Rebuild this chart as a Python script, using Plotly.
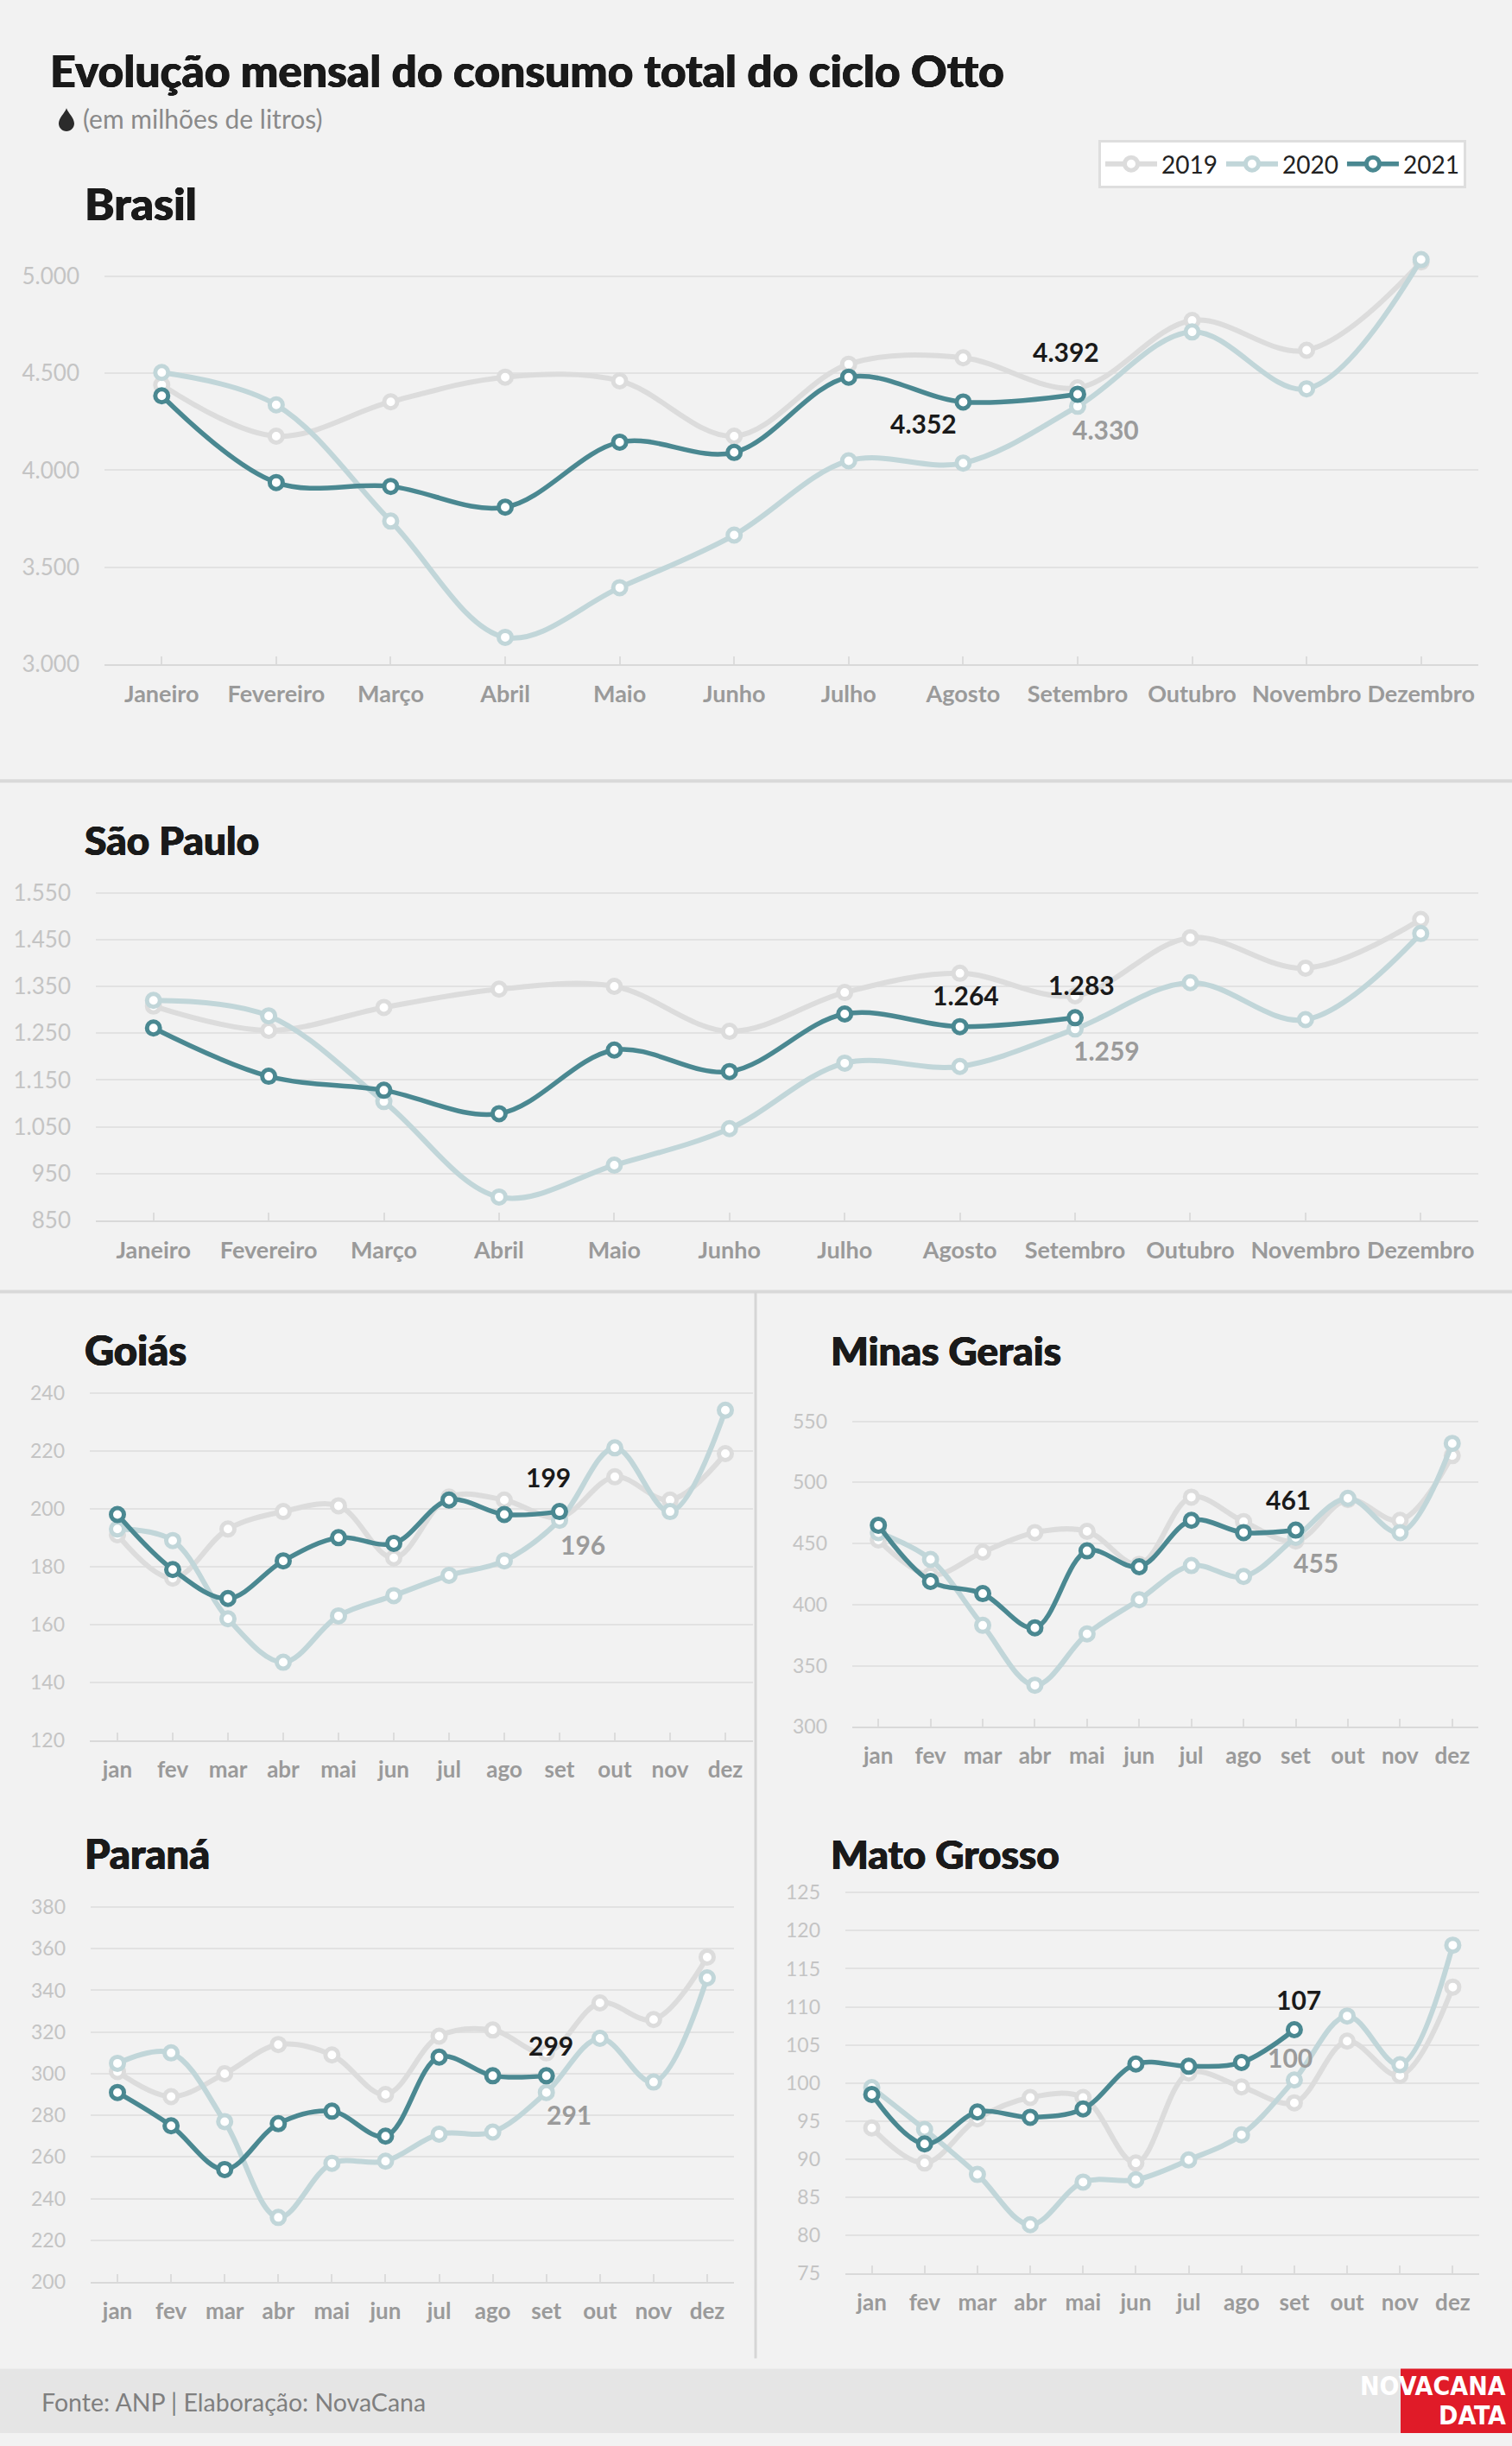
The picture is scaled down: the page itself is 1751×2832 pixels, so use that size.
import plotly.graph_objects as go

# design size in pixels; everything below is placed as a fraction of it
W, H = 1751, 2832

# ---- data ----
meses_longos = ['Janeiro', 'Fevereiro', 'Março', 'Abril', 'Maio', 'Junho', 'Julho',
                'Agosto', 'Setembro', 'Outubro', 'Novembro', 'Dezembro']
meses_curtos = ['jan', 'fev', 'mar', 'abr', 'mai', 'jun', 'jul', 'ago', 'set', 'out', 'nov', 'dez']
anos = ['2019', '2020', '2021']

brasil_2019 = [4440, 4176, 4353, 4480, 4461, 4176, 4547, 4580, 4425, 4772, 4619, 5074]
brasil_2020 = [4504, 4337, 3738, 3139, 3395, 3666, 4049, 4037, 4330, 4713, 4420, 5086]
brasil_2021 = [4384, 3937, 3917, 3810, 4145, 4092, 4480, 4352, 4392]

sp_2019 = [1308, 1256, 1305, 1344, 1350, 1254, 1337, 1378, 1330, 1454, 1389, 1493]
sp_2020 = [1320, 1287, 1104, 900, 968, 1046, 1186, 1179, 1259, 1358, 1279, 1463]
sp_2021 = [1261, 1158, 1128, 1078, 1214, 1168, 1291, 1264, 1283]

goias_2019 = [191, 176, 193, 199, 201, 183, 204, 203, 197, 211, 203, 219]
goias_2020 = [193, 189, 162, 147, 163, 170, 177, 182, 196, 221, 199, 234]
goias_2021 = [198, 179, 169, 182, 190, 188, 203, 198, 199]

mg_2019 = [453, 424, 443, 459, 460, 433, 488, 468, 452, 486, 469, 522]
mg_2020 = [459, 437, 383, 334, 376, 404, 432, 423, 455, 487, 459, 532]
mg_2021 = [465, 419, 409, 381, 444, 431, 469, 459, 461]

pr_2019 = [301, 289, 300, 314, 309, 290, 318, 321, 310, 334, 326, 356]
pr_2020 = [305, 310, 277, 231, 257, 258, 271, 272, 291, 317, 296, 346]
pr_2021 = [291, 275, 254, 276, 282, 270, 308, 299, 299]

mt_2019 = [94.1, 89.5, 95.3, 98.1, 98.1, 89.5, 101.3, 99.5, 97.4, 105.5, 101.0, 112.6]
mt_2020 = [99.4, 93.9, 88.0, 81.4, 87.0, 87.3, 89.9, 93.2, 100.4, 108.8, 102.4, 118.1]
mt_2021 = [98.5, 92.0, 96.2, 95.5, 96.6, 102.5, 102.2, 102.7, 107.0]

# ---- styles / layout ----
cores = {'2019': '#dcdcdc', '2020': '#c1d6d9', '2021': '#4a8891'}
FONT = 'Lato, "Open Sans", sans-serif'
FONT_BLACK = '"Lato Black", Lato, "Open Sans", sans-serif'
# no Lato Black here, so thicken the bold titles a little
ENGROSSA = '0.7px 0 0 #1a1a1a, -0.4px 0 0 #1a1a1a, 0 0.4px 0 #1a1a1a'


def fx(x):
    return x / W


def fy(y):
    return 1 - y / H


# name, series, x-labels, pixel box (x0, x1, ytop, ybottom), y range, dtick, tick font sizes
paineis = [
    dict(nome='Brasil', series=[brasil_2019, brasil_2020, brasil_2021], cats=meses_longos,
         box=(121, 1712, 285, 771), yr=[3000, 5150], dtick=500, tfs=(26, 27),
         titulo=(96, 233), tsize=52,
         rotulos=[(2, 7, -46, -25, '#1a1a1a'), (2, 8, -13, 49, '#1a1a1a'), (1, 8, 33, -27, '#9b9b9b')]),
    dict(nome='São Paulo', series=[sp_2019, sp_2020, sp_2021], cats=meses_longos,
         box=(111, 1712, 1010, 1419), yr=[850, 1600], dtick=100, tfs=(26, 27),
         titulo=(96, 976), tsize=46,
         rotulos=[(2, 7, 7, 37, '#1a1a1a'), (2, 8, 7, 38, '#1a1a1a'), (1, 8, 36, -25, '#9b9b9b')]),
    dict(nome='Goiás', series=[goias_2019, goias_2020, goias_2021], cats=meses_curtos,
         box=(104, 872, 1603, 2025), yr=[120, 245], dtick=20, tfs=(23, 26),
         titulo=(96, 1570), tsize=47,
         rotulos=[(2, 8, -13, 40, '#1a1a1a'), (1, 8, 27, -28, '#9b9b9b')]),
    dict(nome='Minas Gerais', series=[mg_2019, mg_2020, mg_2021], cats=meses_curtos,
         box=(987, 1712, 1639, 2009), yr=[300, 560], dtick=50, tfs=(23, 26),
         titulo=(960, 1570), tsize=46,
         rotulos=[(2, 8, -9, 36, '#1a1a1a'), (1, 8, 23, -29, '#9b9b9b')]),
    dict(nome='Paraná', series=[pr_2019, pr_2020, pr_2021], cats=meses_curtos,
         box=(105, 850, 2207, 2656), yr=[200, 385], dtick=20, tfs=(23, 26),
         titulo=(96, 2157), tsize=47,
         rotulos=[(2, 8, 5, 35, '#1a1a1a'), (1, 8, 26, -25, '#9b9b9b')]),
    dict(nome='Mato Grosso', series=[mt_2019, mt_2020, mt_2021], cats=meses_curtos,
         box=(979, 1713, 2189, 2646), yr=[75, 126.5], dtick=5, tfs=(23, 26),
         titulo=(960, 2157), tsize=46,
         rotulos=[(2, 8, 5, 35, '#1a1a1a'), (1, 8, -5, 26, '#9b9b9b')]),
]

fig = go.Figure()
annotations = []
layout_axes = {}

for i, p in enumerate(paineis):
    n = '' if i == 0 else str(i + 1)
    xref, yref = 'x' + n, 'y' + n
    for k, ano in enumerate(anos):
        vals = p['series'][k]
        fig.add_trace(go.Scatter(
            x=p['cats'][:len(vals)], y=vals,
            xaxis=xref, yaxis=yref,
            mode='lines+markers',
            name=ano, legendgroup=ano, showlegend=(i == 0),
            line=dict(color=cores[ano], width=6 if ano != '2021' else 5.5, shape='spline', smoothing=1),
            marker=dict(size=15, color='white', line=dict(color=cores[ano], width=5)),
            hoverinfo='skip',
        ))
    x0, x1, yt, yb = p['box']
    layout_axes['xaxis' + n] = dict(
        domain=[fx(x0), fx(x1)], anchor=yref, type='category',
        categoryorder='array', categoryarray=p['cats'], range=[-0.5, 11.5],
        showgrid=False, showline=True, linecolor='#d9d9d9', linewidth=2,
        ticks='inside', ticklen=9, tickcolor='#dcdcdc', tickwidth=1.5,
        tickfont=dict(family=FONT, size=p['tfs'][1], color='#9a9a9a', weight='bold'),
        ticklabelstandoff=10, fixedrange=True,
    )
    layout_axes['yaxis' + n] = dict(
        domain=[fy(yb), fy(yt)], anchor=xref, range=p['yr'],
        tick0=p['yr'][0], dtick=p['dtick'], tickformat=',d',
        showgrid=True, gridcolor='#e2e2e2', gridwidth=1.5, zeroline=False,
        showline=False, ticks='',
        tickfont=dict(family=FONT, size=p['tfs'][0], color='#c4c4c4'),
        ticklabelstandoff=28, fixedrange=True,
    )
    # section title
    annotations.append(dict(
        text=p['nome'], xref='paper', yref='paper', x=fx(p['titulo'][0]), y=fy(p['titulo'][1]),
        xanchor='left', yanchor='middle', showarrow=False,
        font=dict(family=FONT_BLACK, size=p['tsize'], color='#1a1a1a', weight=900, shadow=ENGROSSA)))
    # value labels
    for (k, idx, dx, dy, cor) in p['rotulos']:
        v = p['series'][k][idx]
        txt = f'{round(v):,}'.replace(',', '.')
        annotations.append(dict(
            text=txt, xref=xref, yref=yref, x=p['cats'][idx], y=v,
            xshift=dx, yshift=dy, showarrow=False,
            font=dict(family=FONT, size=30, color=cor, weight='bold')))

# main title, subtitle, footer
annotations += [
    dict(text='Evolução mensal do consumo total do ciclo Otto', xref='paper', yref='paper',
         x=fx(56), y=fy(79), xanchor='left', yanchor='middle', showarrow=False,
         font=dict(family=FONT_BLACK, size=51.5, color='#1a1a1a', weight=900, shadow=ENGROSSA)),
    dict(text='(em milhões de litros)', xref='paper', yref='paper',
         x=fx(94), y=fy(135), xanchor='left', yanchor='middle', showarrow=False,
         font=dict(family=FONT, size=30, color='#8a8a8a')),
    dict(text='Fonte: ANP | Elaboração: NovaCana', xref='paper', yref='paper',
         x=fx(46), y=fy(2796), xanchor='left', yanchor='middle', showarrow=False,
         font=dict(family=FONT, size=28.5, color='#7f7f7f')),
    dict(text='<b>NOVACANA</b>', xref='paper', yref='paper',
         x=fx(1746), y=fy(2777), xanchor='right', yanchor='middle', showarrow=False,
         font=dict(family='"Liberation Sans Narrow", "DejaVu Sans Condensed", sans-serif', size=30, color='white')),
    dict(text='<b>DATA</b>', xref='paper', yref='paper',
         x=fx(1746), y=fy(2811), xanchor='right', yanchor='middle', showarrow=False,
         font=dict(family='"Liberation Sans Narrow", "DejaVu Sans Condensed", sans-serif', size=30, color='white')),
]


def caminho(pontos):
    # pontos: list of (cmd, [(x, y), ...]) in pixels
    s = ''
    for cmd, pts in pontos:
        s += cmd + ' ' + ' '.join(f'{fx(x):.5f},{fy(y):.5f}' for x, y in pts) + ' '
    return s + 'Z'


gota = caminho([
    ('M', [(77, 123)]),
    ('C', [(79, 129), (86, 134), (86, 141)]),
    ('C', [(86, 146), (82, 150), (77, 150)]),
    ('C', [(72, 150), (68, 146), (68, 141)]),
    ('C', [(68, 134), (75, 129), (77, 123)]),
])

shapes = [
    dict(type='line', xref='paper', yref='paper', x0=0, x1=1, y0=fy(907), y1=fy(907),
         line=dict(color='#d9d9d9', width=4)),
    dict(type='line', xref='paper', yref='paper', x0=0, x1=1, y0=fy(1502), y1=fy(1502),
         line=dict(color='#d9d9d9', width=4)),
    dict(type='line', xref='paper', yref='paper', x0=fx(875), x1=fx(875), y0=fy(1502), y1=fy(2745),
         line=dict(color='#d6d6d6', width=3)),
    dict(type='rect', xref='paper', yref='paper', x0=0, x1=1, y0=0, y1=fy(2757),
         fillcolor='#e5e5e5', line=dict(width=0), layer='below'),
    dict(type='rect', xref='paper', yref='paper', x0=fx(1622), x1=1, y0=0, y1=fy(2757),
         fillcolor='#e01b28', line=dict(width=0)),
    dict(type='path', xref='paper', yref='paper', path=gota,
         fillcolor='#2b2b2b', line=dict(width=0)),
]

fig.update_layout(
    autosize=True,
    margin=dict(l=0, r=0, t=0, b=0),
    paper_bgcolor='#f2f2f2', plot_bgcolor='#f2f2f2',
    separators=',.',
    font=dict(family=FONT),
    showlegend=True,
    legend=dict(orientation='h', x=fx(1698), xanchor='right', y=fy(160), yanchor='top',
                bgcolor='white', bordercolor='#dedede', borderwidth=3,
                font=dict(family=FONT, size=28, color='#222222'),
                itemwidth=60, traceorder='normal'),
    annotations=annotations,
    shapes=shapes,
    **layout_axes,
)

# the figure fills the browser window exactly: no page margins, no scrolling
ajuste_pagina = (
    "for (const el of [document.documentElement, document.body]) {"
    "  el.style.margin='0'; el.style.padding='0'; el.style.overflow='hidden';"
    "}"
    "document.body.style.background='#f2f2f2';"
    "Plotly.Plots.resize(document.getElementById('{plot_id}'));"
)
fig.write_html('out.html', default_width='100vw', default_height='100vh',
               config={'displayModeBar': False}, post_script=ajuste_pagina)
